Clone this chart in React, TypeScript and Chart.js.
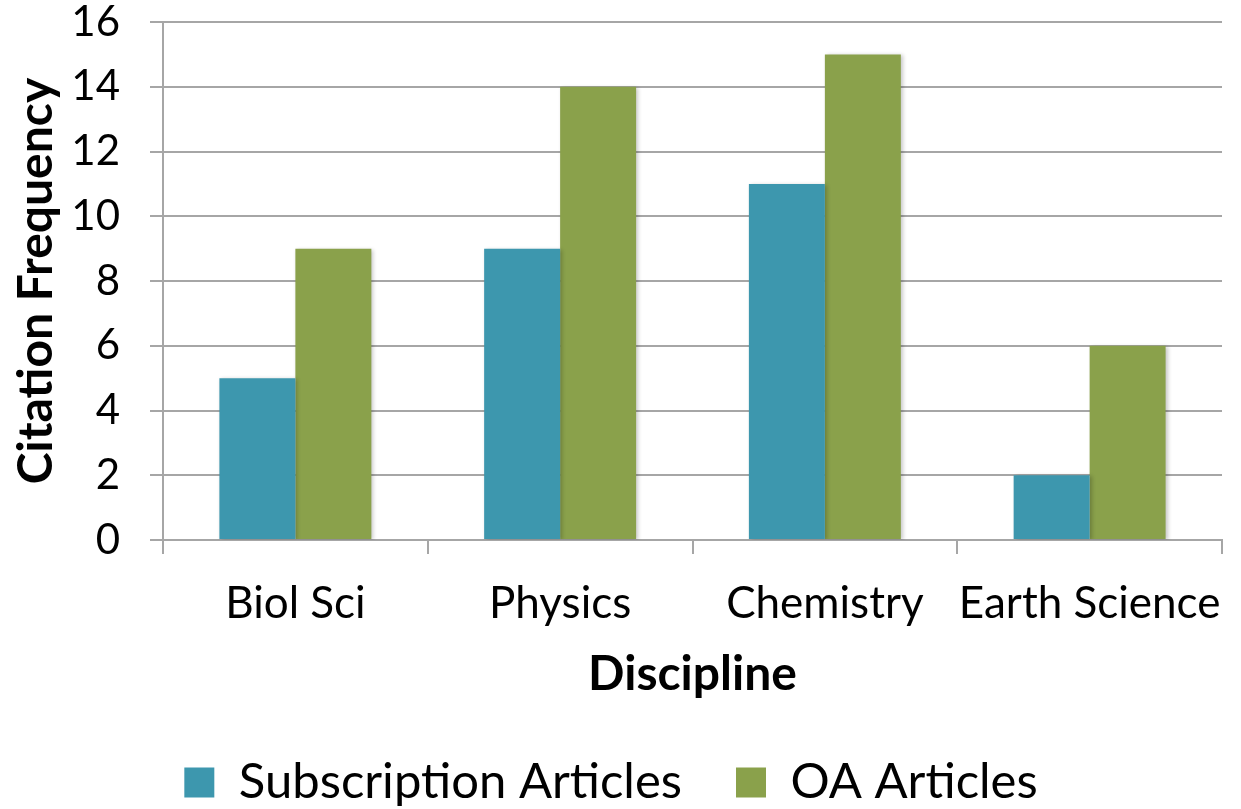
import React, { useEffect, useRef } from "react";
import { Chart, registerables } from "chart.js";

Chart.register(...registerables);

const categories = ["Biol Sci", "Physics", "Chemistry", "Earth Science"];
const subscriptionValues = [5, 9, 11, 2];
const oaValues = [9, 14, 15, 6];
const seriesNames = ["Subscription Articles", "OA Articles"];
const yTitle = "Citation Frequency";
const xTitle = "Discipline";

const BLUE = "#3D97AE";
const GREEN = "#8AA14B";
const GRID = "#A6A6A6";
const FONT = "Lato";

const shadowPlugin = {
  id: "barShadow",
  beforeDatasetsDraw(chart: any) {
    const c = chart.ctx;
    c.save();
    c.shadowColor = "rgba(0,0,0,0.22)";
    c.shadowBlur = 4;
    c.shadowOffsetX = 2;
    c.shadowOffsetY = 1;
  },
  afterDatasetsDraw(chart: any) {
    chart.ctx.restore();
  },
};

export default function App() {
  const ref = useRef<HTMLCanvasElement | null>(null);

  useEffect(() => {
    document.body.style.margin = "0";
    const ctx = ref.current!;
    const chart = new Chart(ctx, {
      type: "bar",
      data: {
        labels: categories,
        datasets: [
          {
            label: seriesNames[0],
            data: subscriptionValues,
            backgroundColor: BLUE,
            borderWidth: 0,
            categoryPercentage: 0.574,
            barPercentage: 1,
          },
          {
            label: seriesNames[1],
            data: oaValues,
            backgroundColor: GREEN,
            borderWidth: 0,
            categoryPercentage: 0.574,
            barPercentage: 1,
          },
        ],
      },
      plugins: [shadowPlugin],
      options: {
        animation: false,
        responsive: false,
        maintainAspectRatio: false,
        layout: { padding: { left: 0, right: 19, top: 0, bottom: -8 } },
        plugins: {
          legend: {
            position: "bottom",
            labels: {
              color: "#000",
              font: { family: FONT, size: 49 },
              boxWidth: 30,
              boxHeight: 30,
              padding: 54,
            },
          },
          tooltip: { enabled: false },
        },
        scales: {
          x: {
            grid: {
              drawOnChartArea: false,
              drawTicks: true,
              tickLength: 14,
              color: GRID,
              lineWidth: 2,
              offset: true,
            },
            border: { display: true, color: GRID, width: 2 },
            ticks: {
              color: "#000",
              font: { family: FONT, size: 44, lineHeight: 1 },
              padding: 28,
              maxRotation: 0,
            },
            title: {
              display: true,
              text: xTitle,
              color: "#000",
              font: { family: FONT, size: 48, weight: "bold", lineHeight: 1 },
              padding: { top: -3, bottom: 5 },
            },
            afterFit: (scale: any) => {
              scale.paddingLeft = 0;
              scale.paddingRight = 0;
            },
          },
          y: {
            min: 0,
            max: 16,
            ticks: {
              stepSize: 2,
              color: "#000",
              font: { family: FONT, size: 42, lineHeight: 1 },
              padding: 30,
            },
            grid: {
              color: GRID,
              lineWidth: 2,
              tickLength: 13,
            },
            border: { display: true, color: GRID, width: 2 },
            title: {
              display: true,
              text: yTitle,
              color: "#000",
              font: { family: FONT, size: 48, weight: "bold" },
              padding: { top: 8, bottom: 0 },
            },
            afterFit: (scale: any) => {
              scale.width = 163;
              scale.paddingTop = 22;
              scale.paddingBottom = 0;
            },
          },
        },
      },
    });
    return () => chart.destroy();
  }, []);

  return (
    <div style={{ position: "absolute", left: 0, top: 0, width: 1241, height: 809 }}>
      <canvas ref={ref} width={1241} height={809} style={{ display: "block" }} />
    </div>
  );
}
